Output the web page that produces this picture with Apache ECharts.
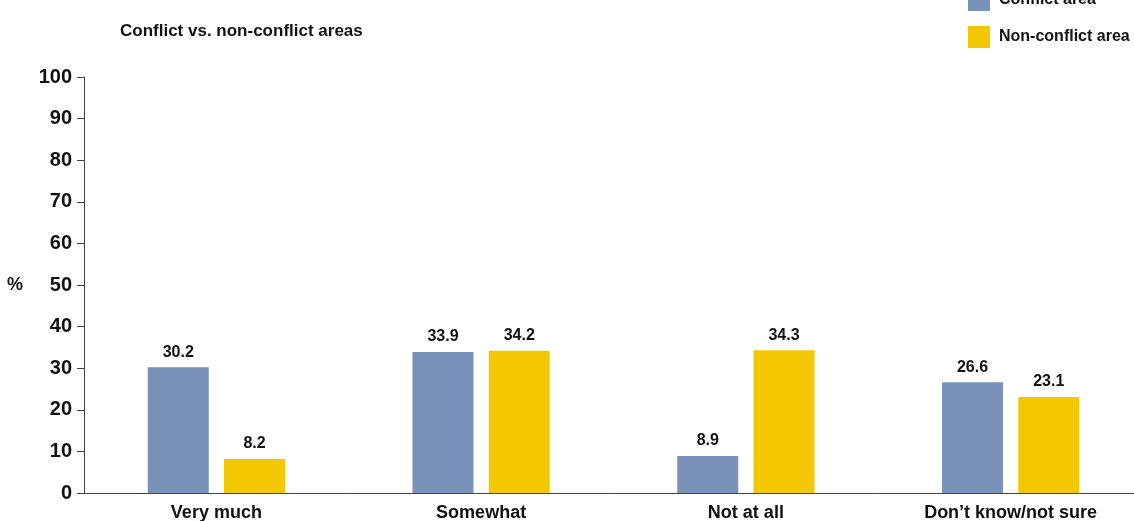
<!DOCTYPE html>
<html>
<head>
<meta charset="utf-8">
<script src="https://cdn.jsdelivr.net/npm/echarts@6/dist/echarts.min.js"></script>
<style>
  html, body { margin: 0; padding: 0; background: #fff; }
  #chart { width: 1134px; height: 521px; }
</style>
</head>
<body>
<div id="chart"></div>
<script>
// 数据
var categories = ['Very much', 'Somewhat', 'Not at all', 'Don\u2019t know/not sure'];
var conflictArea = [30.2, 33.9, 8.9, 26.6];
var nonConflictArea = [8.2, 34.2, 34.3, 23.1];
var seriesNames = ['Conflict area', 'Non-conflict area'];

var FONT = '"Liberation Sans", Arial, sans-serif';

var myChart = echarts.init(document.getElementById('chart'));

myChart.setOption({
    animation: false,
    title: {
        text: 'Conflict vs. non-conflict areas',
        left: 115,
        top: 18,
        textStyle: { fontFamily: FONT, fontSize: 17, fontWeight: 'bold', color: '#111' }
    },
    legend: {
        data: seriesNames,
        orient: 'vertical',
        left: 963,
        top: -16,
        icon: 'rect',
        itemWidth: 22,
        itemHeight: 22,
        itemGap: 15,
        textStyle: { fontFamily: FONT, fontSize: 16, fontWeight: 'bold', color: '#111', padding: [0, 0, 0, 4] }
    },
    grid: {
        left: 84,
        top: 77,
        bottom: 28,
        width: 1059,
        containLabel: false,
        outerBoundsMode: 'none'
    },
    xAxis: {
        type: 'category',
        data: categories,
        axisTick: { show: false },
        axisLine: { lineStyle: { color: '#444', width: 1 } },
        axisLabel: {
            fontFamily: FONT, fontSize: 18, fontWeight: 'bold', color: '#111', margin: 11, interval: 0
        }
    },
    yAxis: {
        type: 'value',
        min: 0,
        max: 100,
        interval: 10,
        name: '%',
        nameLocation: 'middle',
        nameRotate: 0,
        nameGap: 61,
        nameTextStyle: { fontFamily: FONT, fontSize: 18, fontWeight: 'bold', color: '#111' },
        splitLine: { show: false },
        axisLine: { show: true, lineStyle: { color: '#444', width: 1 } },
        axisTick: { show: true, length: 7, lineStyle: { color: '#444' } },
        axisLabel: { fontFamily: FONT, fontSize: 20, fontWeight: 'bold', color: '#111', margin: 12 }
    },
    series: [
        {
            name: seriesNames[0],
            type: 'bar',
            data: conflictArea,
            barWidth: 61,
            barGap: '25%',
            itemStyle: { color: '#7a91b9' },
            label: {
                show: true, position: 'top', distance: 7,
                fontFamily: FONT, fontSize: 16, fontWeight: 'bold', color: '#111',
                formatter: function (p) { return p.value.toFixed(1); }
            }
        },
        {
            name: seriesNames[1],
            type: 'bar',
            data: nonConflictArea,
            barWidth: 61,
            barGap: '25%',
            itemStyle: { color: '#f4c800' },
            label: {
                show: true, position: 'top', distance: 7,
                fontFamily: FONT, fontSize: 16, fontWeight: 'bold', color: '#111',
                formatter: function (p) { return p.value.toFixed(1); }
            }
        }
    ]
});
</script>
</body>
</html>
